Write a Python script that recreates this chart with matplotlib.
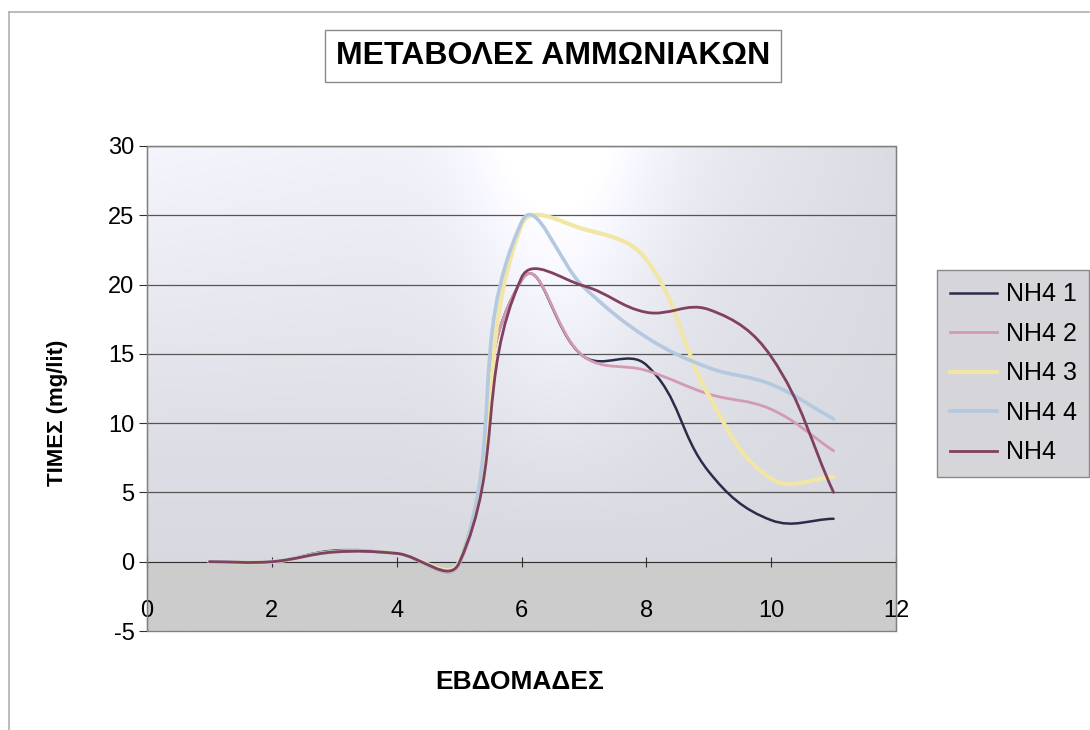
import numpy as np
import matplotlib
matplotlib.use("Agg")
import matplotlib.pyplot as plt
from matplotlib.path import Path
from matplotlib.patches import PathPatch, Rectangle
from matplotlib.lines import Line2D

plt.rcParams['font.family'] = ['Liberation Sans', 'DejaVu Sans']
plt.rcParams['axes.unicode_minus'] = False

# data (weekly values)
weeks = [1, 2, 3, 4, 5, 6, 7, 8, 9, 10, 11]
nh4_1 = [0, 0, 0.8, 0.6, -0.1, 20.3, 14.8, 14.2, 6.5, 3.0, 3.1]
nh4_2 = [0, 0, 0.7, 0.6, -0.2, 20.3, 14.8, 13.8, 12.1, 11.0, 8.0]
nh4_3 = [0, 0, 0.7, 0.6, 0.0, 24.3, 24.0, 21.8, 12.0, 6.0, 6.1]
nh4_4 = [0, 0, 0.7, 0.6, -0.1, 24.5, 19.8, 16.2, 14.0, 12.8, 10.3]
nh4_5 = [0, 0, 0.7, 0.6, -0.1, 20.5, 19.9, 18.0, 18.2, 14.8, 5.0]

series_names = ['NH4 1', 'NH4 2', 'NH4 3', 'NH4 4', 'NH4']
series_vals = [nh4_1, nh4_2, nh4_3, nh4_4, nh4_5]
colors = ['#2a2d4a', '#d39ab3', '#f2e6a6', '#b4c8e0', '#80405e']
widths = [1.8, 2.0, 3.0, 2.6, 2.0]

xticks = [0, 2, 4, 6, 8, 10, 12]
yticks = [-5, 0, 5, 10, 15, 20, 25, 30]


def smooth_path(ax, xs, ys, k=0.38):
    # excel-like smoothed line: cubic beziers built in display space
    pts = ax.transData.transform(np.column_stack([xs, ys]))
    verts = [pts[0]]
    codes = [Path.MOVETO]
    n = len(pts)
    for i in range(n - 1):
        p0, p1 = pts[i], pts[i + 1]
        prev = pts[i - 1] if i > 0 else p0
        nxt = pts[i + 2] if i + 2 < n else p1
        seg = np.linalg.norm(p1 - p0)
        d0 = p1 - prev
        d0 = d0 / np.linalg.norm(d0)
        d1 = nxt - p0
        d1 = d1 / np.linalg.norm(d1)
        verts += [p0 + d0 * seg * k, p1 - d1 * seg * k, p1]
        codes += [Path.CURVE4] * 3
    verts = ax.transData.inverted().transform(np.array(verts))
    return Path(verts, codes)


fig = plt.figure(figsize=(10.9, 7.3), dpi=100)
ax = fig.add_axes([147 / 1090, 1 - 631 / 730, (896 - 147) / 1090, (631 - 146) / 730])

# plot area background (scanned gray with light glare)
u = np.linspace(0, 1, 400)
v = np.linspace(0, 1, 300)
U, V = np.meshgrid(u, v)
lvl = 0.84 + 0.07 * V
lvl += 0.10 * np.exp(-((U - 0.55) / 0.12) ** 2) * np.clip((V - 0.2) / 0.8, 0, 1)
lvl += 0.05 * (1 - U) * np.clip((V - 0.35) / 0.65, 0, 1)
lvl -= 0.05 * np.clip((U - 0.7) / 0.3, 0, 1) * V
band = V < 5 / 35
rgb = np.dstack([lvl, lvl, lvl + 0.03])
rgb[band] = 0.80
rgb = np.clip(rgb, 0, 1)
ax.imshow(rgb, origin='lower', extent=(0, 1, 0, 1), transform=ax.transAxes,
          aspect='auto', zorder=0, interpolation='bilinear')

ax.set_xlim(0, 12)
ax.set_ylim(-5, 30)

for yv in yticks[2:]:
    ax.axhline(yv, color='#555555', lw=0.9, zorder=1)

for name, vals, c, lw in zip(series_names, series_vals, colors, widths):
    ax.add_patch(PathPatch(smooth_path(ax, weeks, vals), fill=False,
                           edgecolor=c, lw=lw, zorder=3, capstyle='round',
                           joinstyle='round'))

ax.spines['bottom'].set_position(('data', 0))
ax.spines['bottom'].set_color('#303030')
ax.spines['left'].set_color('#303030')
ax.spines['top'].set_color('#707070')
ax.spines['right'].set_color('#505050')
ax.add_patch(Rectangle((0, 0), 1, 1, transform=ax.transAxes, fill=False,
                       edgecolor='#808080', lw=1, zorder=5, clip_on=False))

ax.set_xticks(xticks)
ax.set_yticks(yticks)
ax.tick_params(axis='x', direction='inout', length=7, pad=24, labelsize=17,
               color='#303030')
ax.tick_params(axis='y', direction='out', length=6, pad=3, labelsize=17,
               color='#303030')

handles = [Line2D([], [], color=c, lw=lw) for c, lw in zip(colors, widths)]
leg = fig.legend(handles, series_names, loc='upper left',
                 bbox_to_anchor=(937 / 1090, 1 - 270 / 730), borderaxespad=0,
                 fontsize=18, handlelength=1.9, handletextpad=0.35,
                 labelspacing=0.62, borderpad=0.5, fancybox=False,
                 frameon=True)
leg.get_frame().set_facecolor('#d6d6da')
leg.get_frame().set_edgecolor('#8a8a8a')
leg.get_frame().set_alpha(1)

fig.text(553 / 1090, 1 - 56 / 730, 'ΜΕΤΑΒΟΛΕΣ ΑΜΜΩΝΙΑΚΩΝ', fontsize=23,
         fontweight='bold', ha='center', va='center',
         bbox=dict(boxstyle='square,pad=0.35', fc='white', ec='#8a8a8a', lw=1))
fig.text(58 / 1090, 1 - 413 / 730, 'ΤΙΜΕΣ (mg/lit)', fontsize=16,
         fontweight='bold', rotation=90, ha='center', va='center')
fig.text(520 / 1090, 1 - 682 / 730, 'ΕΒΔΟΜΑΔΕΣ', fontsize=19,
         fontweight='bold', ha='center', va='center')

# outer chart frame
fig.add_artist(Line2D([9 / 1090, 1], [1 - 12 / 730, 1 - 12 / 730],
                      transform=fig.transFigure, color='#b0b0b0', lw=1.2))
fig.add_artist(Line2D([9 / 1090, 9 / 1090], [0, 1 - 12 / 730],
                      transform=fig.transFigure, color='#b0b0b0', lw=1.2))

fig.savefig('out.png', dpi=100)
